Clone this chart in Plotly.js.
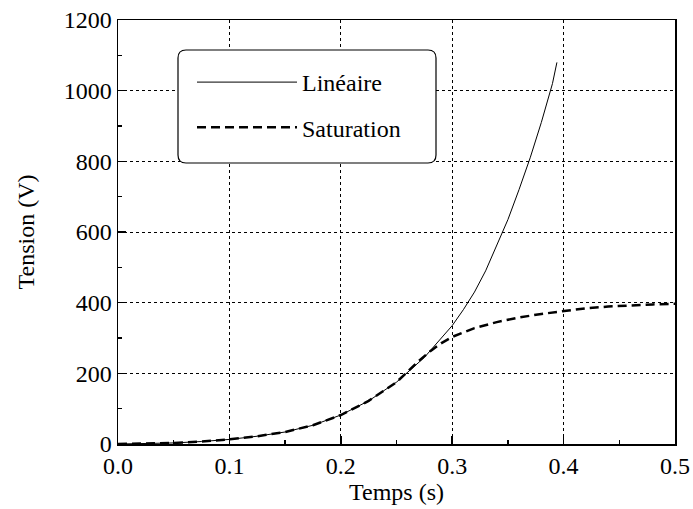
<!DOCTYPE html>
<html>
<head>
<meta charset="utf-8">
<script src="https://cdn.plot.ly/plotly-3.0.1.min.js"></script>
<style>html,body{margin:0;padding:0;background:#fff;}#chart{width:693px;height:509px;}</style>
</head>
<body>
<div id="chart"></div>
<script>
// Linear model (unsaturated) tension vs time
const tLin = [0, 0.025, 0.05, 0.075, 0.1, 0.125, 0.15, 0.175, 0.2, 0.225, 0.25, 0.275, 0.3, 0.31, 0.32, 0.33, 0.34, 0.35, 0.36, 0.37, 0.38, 0.39, 0.394];
const vLin = [0, 1, 3, 7, 13, 22, 34, 53, 82, 122, 175, 245, 335, 380, 430, 490, 560, 635, 720, 810, 910, 1020, 1080];
// Saturated model
const tSat = [0, 0.025, 0.05, 0.075, 0.1, 0.125, 0.15, 0.175, 0.2, 0.225, 0.25, 0.26, 0.27, 0.28, 0.29, 0.3, 0.32, 0.34, 0.36, 0.38, 0.4, 0.42, 0.44, 0.46, 0.48, 0.5];
const vSat = [0, 1, 3, 7, 13, 22, 34, 53, 82, 122, 175, 205, 235, 262, 285, 303, 328, 345, 358, 368, 377, 384, 389, 393, 395, 397];
const seriesNames = ["Linéaire", "Saturation"];
const xTicks = [0, 0.1, 0.2, 0.3, 0.4, 0.5];
const yTicks = [0, 200, 400, 600, 800, 1000, 1200];

const FONT = "Liberation Serif, Times New Roman, serif";

const traces = [
  {x: tLin, y: vLin, name: seriesNames[0], legendgroup: "a", mode: "lines", line: {color: "#000", width: 1}},
  {x: tSat, y: vSat, name: seriesNames[1], legendgroup: "b", mode: "lines", line: {color: "#000", width: 2.5, dash: "9px,5px"}}
];

const axisCommon = {
  showline: true, linecolor: "#000", linewidth: 1.5, mirror: true,
  showgrid: true, gridcolor: "#000", gridwidth: 1, griddash: "dot",
  ticks: "inside", ticklen: 8, tickcolor: "#000", tickwidth: 1.5,
  zeroline: false,
  tickfont: {family: FONT, size: 24, color: "#000"}
};

const layout = {
  width: 693, height: 509,
  margin: {l: 118, r: 18, t: 20, b: 65},
  paper_bgcolor: "#fff", plot_bgcolor: "#fff",
  font: {family: FONT, color: "#000"},
  xaxis: Object.assign({}, axisCommon, {
    range: [0, 0.5], tickvals: xTicks, tickformat: ".1f",
    minor: {ticks: "inside", ticklen: 4, dtick: 0.05, tickcolor: "#000", showgrid: false},
    title: {text: "Temps (s)", font: {family: FONT, size: 24, color: "#000"}, standoff: 0}
  }),
  yaxis: Object.assign({}, axisCommon, {
    range: [0, 1200], tickvals: yTicks,
    minor: {ticks: "inside", ticklen: 4, dtick: 100, tickcolor: "#000", showgrid: false},
    title: {text: "Tension (V)", font: {family: FONT, size: 24, color: "#000"}, standoff: 22}
  }),
  showlegend: true,
  legend: {
    x: (192 - 118) / 557, y: 1 - (60 - 20) / 424, xanchor: "left", yanchor: "top",
    bgcolor: "rgba(0,0,0,0)", borderwidth: 0,
    font: {family: FONT, size: 24, color: "#000"},
    itemwidth: 100, tracegroupgap: 11
  },
  shapes: [{
    type: "path", xref: "paper", yref: "paper", layer: "above",
    path: (function(){
      const x0 = (178-118)/557, x1 = (436-118)/557, y0 = 1-(163-20)/424, y1 = 1-(50-20)/424;
      const rx = 8/557, ry = 8/424;
      return `M ${x0+rx},${y1} L ${x1-rx},${y1} Q ${x1},${y1} ${x1},${y1-ry} L ${x1},${y0+ry} Q ${x1},${y0} ${x1-rx},${y0} L ${x0+rx},${y0} Q ${x0},${y0} ${x0},${y0+ry} L ${x0},${y1-ry} Q ${x0},${y1} ${x0+rx},${y1} Z`;
    })(),
    line: {color: "#000", width: 1.2}, fillcolor: "#fff"
  }]
};

Plotly.newPlot("chart", traces, layout, {displayModeBar: false, staticPlot: true});
</script>
</body>
</html>
